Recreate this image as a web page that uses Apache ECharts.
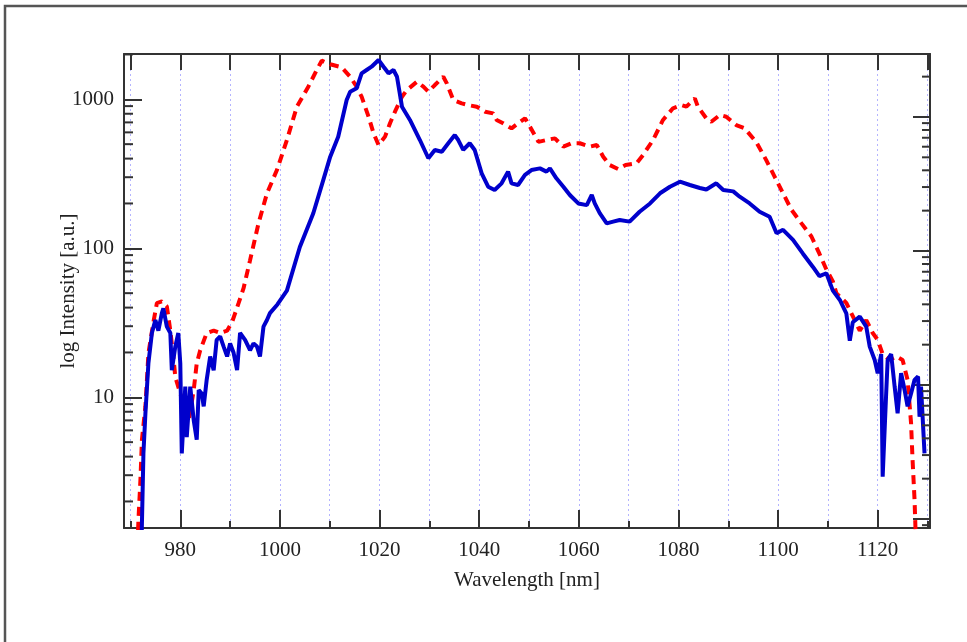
<!DOCTYPE html>
<html>
<head>
<meta charset="utf-8">
<script src="https://cdn.jsdelivr.net/npm/echarts@6/dist/echarts.min.js"></script>
<style>
html,body{margin:0;padding:0;background:#fff;}
#show{width:967px;height:642px;}
</style>
</head>
<body>
<div id="show"></div>
<script>
// solid blue trace
var blueWavelength = [972.2,972.6,973.0,973.6,974.3,975.0,975.6,976.3,976.6,977.3,978.0,978.3,979.0,979.6,980.0,980.3,981.0,981.3,982.0,982.7,983.3,983.7,984.3,984.7,985.3,986.0,986.7,987.3,988.0,988.7,989.4,990.0,990.7,991.4,992.0,993.0,994.0,994.7,995.4,996.0,996.7,997.4,998.0,999.5,1001.4,1004.0,1006.7,1008.7,1010.1,1011.7,1013.4,1014.1,1015.4,1016.4,1017.4,1018.4,1019.8,1020.8,1021.8,1022.8,1023.5,1024.5,1026.1,1028.1,1029.8,1031.1,1032.5,1033.8,1035.1,1035.8,1036.8,1038.1,1039.1,1040.5,1041.8,1043.1,1044.5,1045.8,1046.5,1047.8,1049.2,1050.5,1052.2,1053.5,1054.2,1055.5,1056.9,1058.2,1059.9,1061.6,1062.6,1063.2,1064.2,1065.6,1066.9,1068.2,1070.2,1072.2,1074.3,1076.3,1078.3,1080.3,1082.3,1084.3,1085.6,1087.6,1089.0,1091.0,1092.3,1094.3,1096.3,1098.3,1099.7,1101.0,1103.0,1105.0,1107.0,1108.3,1109.7,1111.0,1112.4,1113.7,1114.4,1115.0,1116.4,1117.7,1118.4,1119.4,1120.0,1120.7,1121.0,1121.7,1122.0,1122.7,1123.4,1124.0,1124.7,1125.4,1126.0,1126.7,1127.4,1128.1,1128.4,1128.7,1129.4];
var blueIntensity = [1.0,4.2,7.8,16.9,27,33,28,36.7,39.5,29.8,27,15.2,21.9,27,16.9,4.2,11.8,5.4,11.8,7.0,5.2,11.2,10.6,8.7,13.1,18.8,15.2,24.3,25.6,21.9,18.8,23,19.9,15.2,27,24.3,20.7,23,21.9,18.8,29.8,33,36.7,42,52,102,172,287,412,561,989,1125,1185,1494,1573,1655,1837,1655,1494,1573,1418,892,727,533,402,457,445,507,575,533,457,507,457,318,259,246,273,327,273,266,311,335,344,327,344,295,259,228,200,195,228,200,172,147,151,155,151,176,200,234,259,280,266,254,248,273,246,241,222,200,176,163,126,133,114,92,75,65,68,52,45,36.6,24,31.9,34.8,29.8,21.9,17.8,14.5,19.5,2.93,10.6,17.8,19.5,11.8,7.8,14.5,11.2,8.7,10.6,13.1,13.8,7.4,11.8,4.2];

// dashed red trace
var redWavelength = [971.3,971.6,972.0,972.3,973.0,973.3,973.6,974.6,975.3,976.3,977.3,978.0,978.6,979.0,980.0,981.0,981.7,982.7,983.3,984.0,985.3,986.7,988.0,989.4,990.4,991.0,991.7,992.7,994.0,995.7,997.4,999.4,1001.4,1003.4,1005.7,1007.4,1008.4,1010.1,1012.4,1014.1,1015.4,1016.4,1017.8,1018.8,1019.8,1021.1,1022.1,1023.1,1024.5,1025.5,1027.5,1028.8,1029.8,1031.1,1032.8,1033.5,1034.8,1036.5,1037.8,1039.5,1041.2,1042.8,1043.5,1044.8,1046.5,1047.8,1049.2,1050.2,1051.9,1053.5,1055.2,1056.9,1058.5,1060.2,1062.2,1063.6,1064.9,1066.2,1067.9,1069.4,1071.6,1072.9,1074.9,1076.9,1078.9,1080.6,1081.6,1083.3,1083.9,1085.6,1086.6,1088.3,1089.6,1091.6,1093.3,1095.6,1097.6,1099.3,1101.0,1102.7,1104.7,1106.7,1108.3,1109.7,1111.0,1111.7,1113.7,1115.0,1116.4,1117.7,1119.0,1120.0,1121.0,1122.4,1123.7,1125.0,1126.0,1126.7,1127.0,1127.4,1127.7];
var redIntensity = [0.8,1.5,2.8,5.2,8.7,13,19.7,31.9,42.8,44,40.7,28,18.8,13.7,10.6,8.7,7.0,11.2,16.9,20.7,27,28,27,28,32,36.6,42.8,54,83,147,234,335,533,892,1215,1573,1816,1720,1640,1418,1215,1041,764,591,493,562,690,826,1041,1154,1312,1215,1125,1247,1418,1280,989,940,915,892,826,805,727,690,638,690,746,655,518,533,547,481,507,507,481,493,412,362,340,362,372,423,533,727,870,915,892,1015,892,745,707,785,764,672,638,518,392,303,234,181,147,120,92,72,60,50,43,35,28,33,27,24.3,19.5,17.8,18.8,17.8,13.1,6.7,3.8,2.05,1.0];

var xRange = [968.7, 1130.5];
var leftRange = [1.327, 2014];
var rightRange = [0.857, 2951];
var xLabels = [980, 1000, 1020, 1040, 1060, 1080, 1100, 1120];
var yLabels = [10, 100, 1000];

var font = "'Liberation Serif', 'DejaVu Serif', serif";
var frame = '#333';

function zip(a, b) {
    var out = [];
    for (var i = 0; i < a.length; i++) out.push([a[i], b[i]]);
    return out;
}

// 2..9 within each decade, inside the axis range
function minorValues(range) {
    var vals = [];
    for (var k = -1; k <= 4; k++) {
        for (var m = 2; m <= 9; m++) {
            var v = m * Math.pow(10, k);
            if (v > range[0] && v < range[1]) vals.push(v);
        }
    }
    return vals;
}

function tickSeries(values, yIndex, side, len) {
    return {
        type: 'custom',
        xAxisIndex: 0,
        yAxisIndex: yIndex,
        silent: true,
        z: 5,
        data: values.map(function (v) { return [xRange[0], v]; }),
        encode: {x: 0, y: 1},
        renderItem: function (params, api) {
            var y = api.coord([xRange[0], api.value(1)])[1];
            var cs = params.coordSys;
            var x0 = side === 'left' ? cs.x : cs.x + cs.width;
            var x1 = side === 'left' ? x0 + len : x0 - len;
            return {
                type: 'line',
                shape: {x1: x0, y1: y, x2: x1, y2: y},
                style: {stroke: frame, lineWidth: 2}
            };
        }
    };
}

var myChart = echarts.init(document.getElementById('show'), null, {renderer: 'canvas'});

var option = {
    backgroundColor: '#fff',
    animation: false,
    graphic: [
        {
            type: 'rect',
            silent: true,
            z: -10,
            shape: {x: 5, y: 6, width: 1100, height: 800},
            style: {fill: 'none', stroke: '#555', lineWidth: 2.5}
        },
        {
            // y axis title, placed by hand so it sits where the reference has it
            type: 'text',
            silent: true,
            x: 68, y: 291,
            rotation: Math.PI / 2,
            style: {
                text: 'log Intensity [a.u.]',
                fill: '#222', font: "21px 'Liberation Serif', 'DejaVu Serif', serif",
                align: 'center', verticalAlign: 'middle'
            }
        }
    ],
    grid: {left: 124, right: 37, top: 54, bottom: 114},
    xAxis: [
        {
            type: 'value', position: 'bottom',
            min: xRange[0], max: xRange[1],
            splitNumber: 8, minInterval: 20, maxInterval: 20,
            axisLine: {show: true, lineStyle: {color: frame, width: 2}},
            axisTick: {inside: true, length: 18, lineStyle: {color: frame, width: 2}},
            axisLabel: {
                margin: 12, color: '#222', fontFamily: font, fontSize: 21,
                formatter: function (v) { return xLabels.indexOf(Math.round(v * 1000) / 1000) >= 0 ? String(v) : ''; }
            },
            splitLine: {show: false},
            name: 'Wavelength [nm]', nameLocation: 'middle', nameGap: 42,
            nameTextStyle: {color: '#222', fontFamily: font, fontSize: 21}
        },
        {
            type: 'value', position: 'bottom',
            min: xRange[0], max: xRange[1],
            splitNumber: 16, minInterval: 10, maxInterval: 10,
            axisLine: {show: false},
            axisTick: {inside: true, length: 7, lineStyle: {color: frame, width: 2}},
            axisLabel: {show: false},
            splitLine: {show: false}
        },
        {
            type: 'value', position: 'top',
            min: xRange[0], max: xRange[1],
            splitNumber: 16, minInterval: 10, maxInterval: 10,
            axisLine: {show: true, lineStyle: {color: frame, width: 2}},
            axisTick: {inside: true, length: 16, lineStyle: {color: frame, width: 2}},
            axisLabel: {show: false},
            splitLine: {show: true, lineStyle: {color: '#b4b4ff', type: [2, 3], width: 1}}
        }
    ],
    yAxis: [
        {
            type: 'log', logBase: 10, position: 'left',
            min: leftRange[0], max: leftRange[1],
            axisLine: {show: true, lineStyle: {color: frame, width: 2}},
            axisTick: {inside: true, length: 18, lineStyle: {color: frame, width: 2}},
            axisLabel: {
                margin: 10, color: '#222', fontFamily: font, fontSize: 21,
                formatter: function (v) {
                    for (var i = 0; i < yLabels.length; i++) {
                        if (Math.abs(v - yLabels[i]) < 1e-6 * yLabels[i]) return String(yLabels[i]);
                    }
                    return '';
                }
            },
            splitLine: {show: false}
        },
        {
            type: 'log', logBase: 10, position: 'right',
            min: rightRange[0], max: rightRange[1],
            axisLine: {show: true, lineStyle: {color: frame, width: 2}},
            axisTick: {inside: true, length: 17, lineStyle: {color: frame, width: 2}},
            axisLabel: {show: false},
            splitLine: {show: false}
        }
    ],
    series: [
        {
            name: 'red', type: 'line', xAxisIndex: 0, yAxisIndex: 0,
            data: zip(redWavelength, redIntensity),
            showSymbol: false, symbol: 'none', clip: true, z: 2,
            lineStyle: {color: '#ff0000', width: 4, type: [9, 6]}
        },
        {
            name: 'blue', type: 'line', xAxisIndex: 0, yAxisIndex: 0,
            data: zip(blueWavelength, blueIntensity),
            showSymbol: false, symbol: 'none', clip: true, z: 3,
            lineStyle: {color: '#0000cc', width: 4}
        },
        tickSeries(minorValues(leftRange), 0, 'left', 9),
        tickSeries(minorValues(rightRange), 1, 'right', 8)
    ]
};

myChart.setOption(option);
</script>
</body>
</html>
